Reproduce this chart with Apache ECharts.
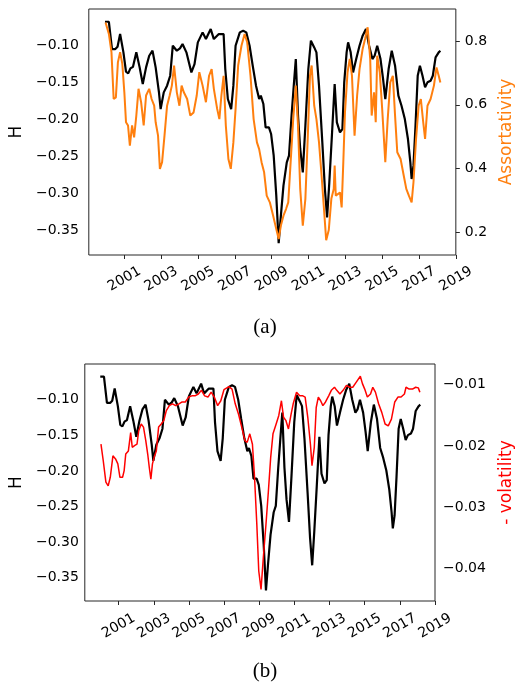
<!DOCTYPE html>
<html>
<head>
<meta charset="utf-8">
<title>H, assortativity and volatility</title>
<script src="https://cdn.jsdelivr.net/npm/echarts@6/dist/echarts.min.js"></script>
<style>
  html, body { margin: 0; padding: 0; background: #fff; }
  #chart { width: 523px; height: 684px; }
</style>
</head>
<body>
<div id="chart"></div>
<script>
// Hurst exponent H (shared by both panels)
const hYears = [
  1999.95, 2000.03, 2000.16, 2000.33, 2000.51, 2000.63, 2000.77, 2000.95, 2001.09, 2001.21,
  2001.33, 2001.47, 2001.65, 2001.83, 2002.00, 2002.18, 2002.35, 2002.53, 2002.70, 2002.88,
  2002.97, 2003.14, 2003.32, 2003.49, 2003.63, 2003.85, 2004.02, 2004.16, 2004.37, 2004.64,
  2004.81, 2004.99, 2005.25, 2005.43, 2005.69, 2005.86, 2006.13, 2006.39, 2006.48, 2006.62,
  2006.80, 2006.92, 2007.04, 2007.27, 2007.45, 2007.62, 2007.80, 2007.97, 2008.15, 2008.32,
  2008.41, 2008.55, 2008.67, 2008.85, 2008.97, 2009.11, 2009.25, 2009.38, 2009.50, 2009.64,
  2009.82, 2009.94, 2010.08, 2010.20, 2010.31, 2010.43, 2010.55, 2010.69, 2010.83, 2010.99,
  2011.13, 2011.31, 2011.43, 2011.57, 2011.75, 2011.89, 2012.01, 2012.13, 2012.27, 2012.42,
  2012.54, 2012.71, 2012.84, 2012.94, 2013.07, 2013.15, 2013.29, 2013.42, 2013.59, 2013.77,
  2013.94, 2014.12, 2014.29, 2014.47, 2014.59, 2014.73, 2014.91, 2015.05, 2015.17, 2015.35,
  2015.52, 2015.70, 2015.88, 2016.05, 2016.23, 2016.40, 2016.53, 2016.60, 2016.70, 2016.81,
  2016.93, 2017.05, 2017.19, 2017.33, 2017.46, 2017.63, 2017.75, 2017.90, 2018.07, 2018.16
];
const hValues = [
  -0.0675, -0.0652, -0.0675, -0.1045, -0.1045, -0.1014, -0.0842, -0.1090, -0.1353, -0.1375,
  -0.1307, -0.1285, -0.1090, -0.1294, -0.1520, -0.1294, -0.1136, -0.1068, -0.1294, -0.1633,
  -0.1859, -0.1633, -0.1542, -0.1407, -0.1000, -0.1068, -0.1036, -0.0977, -0.1090, -0.1362,
  -0.1249, -0.0955, -0.0819, -0.0910, -0.0774, -0.0910, -0.0842, -0.0842, -0.1316, -0.1723,
  -0.1859, -0.1542, -0.1000, -0.0819, -0.0797, -0.0819, -0.1000, -0.1271, -0.1542, -0.1723,
  -0.1678, -0.1791, -0.2108, -0.2108, -0.2198, -0.2492, -0.3034, -0.3680, -0.3306, -0.2899,
  -0.2582, -0.2492, -0.1949, -0.1542, -0.1181, -0.1949, -0.2401, -0.2718, -0.2085, -0.1316,
  -0.0932, -0.1023, -0.1090, -0.1542, -0.2311, -0.2944, -0.3328, -0.2853, -0.2221, -0.1520,
  -0.2040, -0.2175, -0.2130, -0.1497, -0.1090, -0.0955, -0.1090, -0.1362, -0.1181, -0.1000,
  -0.0864, -0.0774, -0.1000, -0.1181, -0.1136, -0.1000, -0.1181, -0.1452, -0.1723, -0.1316,
  -0.1068, -0.1271, -0.1678, -0.1814, -0.1995, -0.2266, -0.2582, -0.2808, -0.2627, -0.2085,
  -0.1407, -0.1271, -0.1407, -0.1565, -0.1497, -0.1475, -0.1407, -0.1158, -0.1090, -0.1068
];

// Assortativity (panel a, right axis)
const assortYears = [
  1999.98, 2000.16, 2000.30, 2000.42, 2000.54, 2000.65, 2000.77, 2000.89, 2001.00, 2001.09,
  2001.20, 2001.30, 2001.42, 2001.53, 2001.65, 2001.77, 2001.91, 2002.05, 2002.18, 2002.35,
  2002.48, 2002.62, 2002.70, 2002.83, 2002.93, 2003.05, 2003.18, 2003.32, 2003.46, 2003.58,
  2003.70, 2003.85, 2003.99, 2004.11, 2004.23, 2004.41, 2004.58, 2004.76, 2004.93, 2005.07,
  2005.25, 2005.43, 2005.60, 2005.74, 2005.86, 2006.04, 2006.16, 2006.27, 2006.39, 2006.51,
  2006.65, 2006.78, 2006.92, 2007.04, 2007.18, 2007.36, 2007.53, 2007.67, 2007.85, 2008.02,
  2008.20, 2008.32, 2008.45, 2008.59, 2008.73, 2008.90, 2009.08, 2009.25, 2009.38, 2009.50,
  2009.64, 2009.78, 2009.90, 2010.03, 2010.17, 2010.31, 2010.43, 2010.55, 2010.69, 2010.83,
  2010.96, 2011.08, 2011.17, 2011.31, 2011.43, 2011.57, 2011.71, 2011.84, 2011.96, 2012.10,
  2012.24, 2012.37, 2012.42, 2012.48, 2012.71, 2012.80, 2012.89, 2012.98, 2013.12, 2013.24,
  2013.36, 2013.50, 2013.64, 2013.77, 2013.94, 2014.07, 2014.21, 2014.35, 2014.43, 2014.56,
  2014.65, 2014.73, 2014.87, 2015.00, 2015.17, 2015.30, 2015.44, 2015.58, 2015.70, 2015.82,
  2016.00, 2016.17, 2016.31, 2016.45, 2016.60, 2016.70, 2016.84, 2016.98, 2017.10, 2017.23,
  2017.33, 2017.46, 2017.63, 2017.81, 2017.95, 2018.07, 2018.16
];
const assortValues = [
  0.858, 0.822, 0.765, 0.618, 0.623, 0.733, 0.765, 0.728, 0.639, 0.545,
  0.535, 0.472, 0.535, 0.498, 0.566, 0.650, 0.608, 0.535, 0.629, 0.650,
  0.618, 0.597, 0.545, 0.503, 0.399, 0.420, 0.503, 0.597, 0.629, 0.660,
  0.723, 0.639, 0.597, 0.660, 0.639, 0.618, 0.566, 0.576, 0.629, 0.702,
  0.660, 0.608, 0.691, 0.712, 0.650, 0.587, 0.555, 0.629, 0.691, 0.535,
  0.430, 0.399, 0.482, 0.587, 0.723, 0.785, 0.822, 0.796, 0.691, 0.555,
  0.482, 0.461, 0.420, 0.388, 0.315, 0.294, 0.252, 0.210, 0.179, 0.221,
  0.252, 0.273, 0.294, 0.420, 0.555, 0.660, 0.535, 0.336, 0.221, 0.305,
  0.498, 0.691, 0.723, 0.597, 0.555, 0.482, 0.378, 0.273, 0.175, 0.207,
  0.305, 0.336, 0.409, 0.315, 0.325, 0.278, 0.420, 0.576, 0.702, 0.744,
  0.691, 0.503, 0.629, 0.712, 0.775, 0.806, 0.843, 0.744, 0.566, 0.639,
  0.545, 0.754, 0.702, 0.587, 0.420, 0.555, 0.670, 0.691, 0.566, 0.451,
  0.430, 0.378, 0.336, 0.315, 0.294, 0.357, 0.493, 0.597, 0.618, 0.545,
  0.493, 0.597, 0.618, 0.660, 0.717, 0.691, 0.670
];

// Negative volatility (panel b, right axis)
const volYears = [
  1999.99, 2000.12, 2000.27, 2000.40, 2000.52, 2000.67, 2000.82, 2000.95, 2001.07, 2001.22,
  2001.31, 2001.40, 2001.55, 2001.68, 2001.77, 2001.92, 2002.04, 2002.14, 2002.28, 2002.41,
  2002.54, 2002.65, 2002.74, 2002.83, 2002.92, 2003.02, 2003.14, 2003.27, 2003.42, 2003.57,
  2003.71, 2003.88, 2004.06, 2004.24, 2004.43, 2004.61, 2004.79, 2004.98, 2005.16, 2005.34,
  2005.53, 2005.71, 2005.89, 2006.08, 2006.26, 2006.44, 2006.63, 2006.81, 2006.99, 2007.27,
  2007.45, 2007.63, 2007.82, 2008.00, 2008.18, 2008.31, 2008.46, 2008.61, 2008.73, 2008.86,
  2008.97, 2009.10, 2009.23, 2009.38, 2009.52, 2009.65, 2009.78, 2009.96, 2010.11, 2010.26,
  2010.38, 2010.51, 2010.66, 2010.81, 2010.93, 2011.12, 2011.30, 2011.48, 2011.61, 2011.76,
  2011.91, 2012.00, 2012.13, 2012.24, 2012.36, 2012.49, 2012.62, 2012.77, 2012.95, 2013.10,
  2013.28, 2013.41, 2013.59, 2013.77, 2013.96, 2014.14, 2014.32, 2014.51, 2014.75, 2014.87,
  2015.00, 2015.15, 2015.33, 2015.46, 2015.61, 2015.79, 2015.97, 2016.16, 2016.34, 2016.52,
  2016.71, 2016.89, 2017.07, 2017.26, 2017.35, 2017.53, 2017.72, 2017.90, 2018.05, 2018.14
];
const volValues = [
  -0.0197, -0.0224, -0.0259, -0.0265, -0.0251, -0.0216, -0.0221, -0.0229, -0.0251, -0.0251,
  -0.0240, -0.0213, -0.0208, -0.0178, -0.0202, -0.0199, -0.0197, -0.0175, -0.0164, -0.0169,
  -0.0191, -0.0213, -0.0235, -0.0254, -0.0229, -0.0218, -0.0208, -0.0169, -0.0164, -0.0158,
  -0.0142, -0.0134, -0.0131, -0.0134, -0.0131, -0.0128, -0.0128, -0.0120, -0.0118, -0.0118,
  -0.0115, -0.0109, -0.0118, -0.0120, -0.0112, -0.0120, -0.0134, -0.0126, -0.0108, -0.0103,
  -0.0107, -0.0131, -0.0148, -0.0169, -0.0191, -0.0194, -0.0180, -0.0197, -0.0251, -0.0328,
  -0.0404, -0.0434, -0.0382, -0.0328, -0.0273, -0.0218, -0.0180, -0.0164, -0.0150, -0.0126,
  -0.0153, -0.0158, -0.0172, -0.0148, -0.0131, -0.0112, -0.0118, -0.0118, -0.0120, -0.0153,
  -0.0197, -0.0232, -0.0202, -0.0137, -0.0120, -0.0126, -0.0134, -0.0128, -0.0118, -0.0109,
  -0.0104, -0.0109, -0.0115, -0.0109, -0.0101, -0.0104, -0.0104, -0.0096, -0.0086, -0.0098,
  -0.0107, -0.0120, -0.0115, -0.0104, -0.0112, -0.0131, -0.0145, -0.0164, -0.0167, -0.0156,
  -0.0128, -0.0120, -0.0120, -0.0115, -0.0104, -0.0107, -0.0107, -0.0104, -0.0105, -0.0112
];

// Tick values
const yearTicks = [2001, 2003, 2005, 2007, 2009, 2011, 2013, 2015, 2017, 2019];
const hTicks = [-0.35, -0.30, -0.25, -0.20, -0.15, -0.10];
const assortTicks = [0.2, 0.4, 0.6, 0.8];
const volTicks = [-0.04, -0.03, -0.02, -0.01];

const pairs = (xs, ys) => xs.map((x, i) => [x, ys[i]]);
const signed = d => v => (v < 0 ? '\u2212' : '') + Math.abs(v).toFixed(d);

const FONT = 'DejaVu Sans';
const INK = '#000';
const FRAME = '#262626';

function yearAxis(gridIndex, margin) {
  return {
    type: 'value', gridIndex, min: 1999.07, max: 2019,
    axisLine: { show: false },
    splitLine: { show: false },
    axisTick: { show: true, customValues: yearTicks, length: 4, lineStyle: { color: FRAME, width: 1 } },
    axisLabel: {
      customValues: yearTicks, rotate: 30, align: 'center', verticalAlign: 'middle',
      margin, fontSize: 14, color: INK, fontFamily: FONT, formatter: v => String(Math.round(v))
    }
  };
}

function valueAxis(opts) {
  return {
    type: 'value', gridIndex: opts.grid, position: opts.position,
    min: opts.min, max: opts.max,
    axisLine: { show: false },
    splitLine: { show: false },
    axisTick: { show: opts.ticks, customValues: opts.values, length: 4, lineStyle: { color: FRAME, width: 1 } },
    axisLabel: {
      customValues: opts.values, margin: opts.margin, fontSize: 14, color: INK,
      fontFamily: FONT, formatter: signed(opts.digits)
    },
    name: opts.name, nameLocation: 'middle', nameGap: opts.nameGap, nameRotate: 90,
    nameTextStyle: { fontSize: 17, color: opts.nameColor, fontFamily: FONT }
  };
}

const chart = echarts.init(document.getElementById('chart'), null, { renderer: 'canvas' });

chart.setOption({
  animation: false,
  backgroundColor: '#fff',
  grid: [
    { left: 88, right: 57, top: 9, height: 246, show: true, borderColor: FRAME, borderWidth: 1, backgroundColor: 'transparent' },
    { left: 84, right: 76, top: 364, height: 237, show: true, borderColor: FRAME, borderWidth: 1, backgroundColor: 'transparent' }
  ],
  xAxis: [yearAxis(0, 24), yearAxis(1, 25)],
  yAxis: [
    valueAxis({ grid: 0, position: 'left', min: -0.3839, max: -0.0502, values: hTicks, digits: 2,
      ticks: false, margin: 10, name: 'H', nameGap: 61, nameColor: INK }),
    valueAxis({ grid: 0, position: 'right', min: 0.1288, max: 0.9003, values: assortTicks, digits: 1,
      ticks: true, margin: 9, name: 'Assortativity', nameGap: 40, nameColor: '#ff7f0e' }),
    valueAxis({ grid: 1, position: 'left', min: -0.383, max: -0.0497, values: hTicks, digits: 2,
      ticks: false, margin: 6, name: 'H', nameGap: 57, nameColor: INK }),
    valueAxis({ grid: 1, position: 'right', min: -0.0453, max: -0.0066, values: volTicks, digits: 2,
      ticks: false, margin: 8, name: '- volatility', nameGap: 63, nameColor: '#ff0000' })
  ],
  series: [
    { type: 'line', name: 'H', xAxisIndex: 0, yAxisIndex: 0, data: pairs(hYears, hValues),
      showSymbol: false, lineStyle: { color: '#000', width: 2.2 }, z: 2 },
    { type: 'line', name: 'Assortativity', xAxisIndex: 0, yAxisIndex: 1, data: pairs(assortYears, assortValues),
      showSymbol: false, lineStyle: { color: '#ff7f0e', width: 2 }, z: 3 },
    { type: 'line', name: 'H', xAxisIndex: 1, yAxisIndex: 2, data: pairs(hYears, hValues),
      showSymbol: false, lineStyle: { color: '#000', width: 2.2 }, z: 2 },
    { type: 'line', name: '- volatility', xAxisIndex: 1, yAxisIndex: 3, data: pairs(volYears, volValues),
      showSymbol: false, lineStyle: { color: '#ff0000', width: 1.5 }, z: 3 }
  ],
  graphic: [
    { type: 'text', style: { text: '(a)', x: 265, y: 327, textAlign: 'center', textVerticalAlign: 'middle',
      font: '21px "Liberation Serif"', fill: '#000' } },
    { type: 'text', style: { text: '(b)', x: 265, y: 671, textAlign: 'center', textVerticalAlign: 'middle',
      font: '21px "Liberation Serif"', fill: '#000' } }
  ]
});
</script>
</body>
</html>
